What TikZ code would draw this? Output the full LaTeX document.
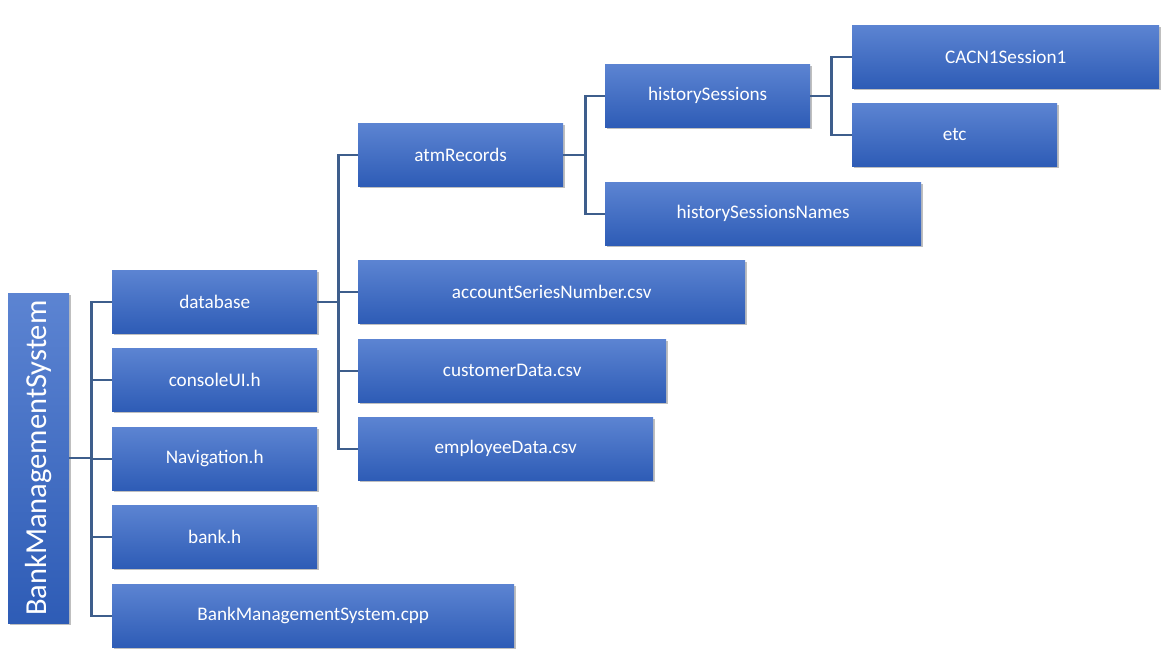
\documentclass[tikz,border=0pt]{standalone}
\usepackage{fontspec}
\setmainfont{Carlito}
\usetikzlibrary{shadows,calc}
\definecolor{boxtop}{RGB}{92,132,210}
\definecolor{boxbot}{RGB}{46,92,182}
\definecolor{conn}{RGB}{62,94,140}
\tikzset{
  box/.style={rectangle, inner sep=0pt, top color=boxtop, bottom color=boxbot, draw=none,
    text=white, font=\fontsize{19.2}{22}\selectfont, align=center, anchor=north west,
    drop shadow={shadow xshift=1.5pt, shadow yshift=-2pt, opacity=0.25, fill=black}},
  conline/.style={draw=conn, line width=2.2pt}
}
\begin{document}
\begin{tikzpicture}[x=1pt,y=-1pt]
\useasboundingbox[fill=white] (0,0) rectangle (1167,671);
\node[box, minimum width=61pt, minimum height=330pt] (root) at (8,293) {\rotatebox{90}{\fontsize{30.5}{33}\selectfont BankManagementSystem}};
\node[box, minimum width=205pt, minimum height=63pt] (db) at (112,270) {database};
\node[box, minimum width=205pt, minimum height=63pt] (ui) at (112,348) {consoleUI.h};
\node[box, minimum width=205pt, minimum height=63pt] (nav) at (112,427) {Navigation.h};
\node[box, minimum width=205pt, minimum height=63pt] (bank) at (112,505) {bank.h};
\node[box, minimum width=402pt, minimum height=63pt] (cpp) at (112,584) {BankManagementSystem.cpp};
\node[box, minimum width=205pt, minimum height=63pt] (atm) at (358,123) {atmRecords};
\node[box, minimum width=387pt, minimum height=63pt] (acc) at (358,260) {accountSeriesNumber.csv};
\node[box, minimum width=308pt, minimum height=63pt] (cust) at (358,339) {customerData.csv};
\node[box, minimum width=295pt, minimum height=63pt] (emp) at (358,417) {employeeData.csv};
\node[box, minimum width=205pt, minimum height=63pt] (hs) at (605,64) {historySessions};
\node[box, minimum width=316pt, minimum height=63pt] (hsn) at (605,182) {historySessionsNames};
\node[box, minimum width=307pt, minimum height=63pt] (cacn) at (852,25) {CACN1Session1};
\node[box, minimum width=205pt, minimum height=63pt] (etc) at (852,103) {etc};
\begin{scope}[conline]
\coordinate (j1) at ($(root.east)+(22,0)$);
\coordinate (j2) at ($(db.east)+(21,0)$);
\coordinate (j3) at ($(atm.east)+(22,0)$);
\coordinate (j4) at ($(hs.east)+(21,0)$);
\draw (root.east) -- (j1);
\foreach \c in {db,ui,nav,bank,cpp} \draw (j1) |- (\c.west);
\draw (db.east) -- (j2);
\foreach \c in {atm,acc,cust,emp} \draw (j2) |- (\c.west);
\draw (atm.east) -- (j3);
\foreach \c in {hs,hsn} \draw (j3) |- (\c.west);
\draw (hs.east) -- (j4);
\foreach \c in {cacn,etc} \draw (j4) |- (\c.west);
\end{scope}
\end{tikzpicture}
\end{document}
